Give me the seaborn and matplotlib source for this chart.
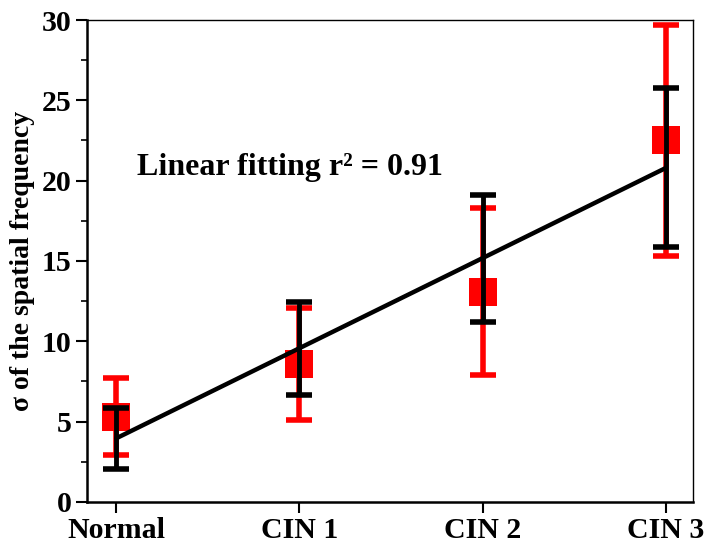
import numpy as np
import pandas as pd
import matplotlib
matplotlib.use("Agg")
import matplotlib.pyplot as plt
import seaborn as sns
from matplotlib.ticker import MultipleLocator

# Data
groups = ["Normal", "CIN 1", "CIN 2", "CIN 3"]
sigma_mean = [5.3, 8.6, 13.1, 22.5]
sigma_err = [2.4, 3.5, 5.2, 7.2]
fit_err = [1.9, 2.9, 3.95, 4.95]

x = np.arange(len(groups))
slope, intercept = np.polyfit(x, sigma_mean, 1)
fit_vals = slope * x + intercept

df = pd.DataFrame({"x": x, "mean": sigma_mean, "fit": fit_vals})

sns.set_style("ticks")
plt.rcParams["font.family"] = ["Liberation Serif", "DejaVu Serif"]
plt.rcParams["font.weight"] = "bold"
plt.rcParams["text.color"] = "black"
plt.rcParams["axes.labelcolor"] = "black"
plt.rcParams["xtick.color"] = "black"
plt.rcParams["ytick.color"] = "black"

fig = plt.figure(figsize=(7.06, 5.48), dpi=100)
ax = fig.add_axes([0.123, 0.084, 0.859, 0.8795])

# red error bars + squares
ax.errorbar(x, sigma_mean, yerr=sigma_err, fmt="none", ecolor="#ff0000",
            elinewidth=4, capsize=9.5, capthick=4, zorder=2)
sns.scatterplot(data=df, x="x", y="mean", marker="s", s=420, color="#ff0000",
                linewidth=0, ax=ax, zorder=3)

# linear fit + its error bars
sns.lineplot(data=df, x="x", y="fit", color="black", linewidth=3.2, ax=ax, zorder=4)
ax.errorbar(x, fit_vals, yerr=fit_err, fmt="none", ecolor="black",
            elinewidth=3.5, capsize=9.5, capthick=4, zorder=5)

ax.text(0.115, 20.8, "Linear fitting r² = 0.91", fontsize=23,
        fontweight="bold", va="center", ha="left")

ax.set_xlim(-0.16, 3.15)
ax.set_ylim(0, 30)
ax.set_xticks(x)
ax.set_xticklabels(groups)
ax.yaxis.set_major_locator(MultipleLocator(5))
ax.yaxis.set_minor_locator(MultipleLocator(2.5))
ax.set_xlabel("")
ax.set_ylabel("σ of the spatial frequency", fontsize=20, fontweight="bold",
              labelpad=5)

for lbl in ax.get_xticklabels() + ax.get_yticklabels():
    lbl.set_fontsize(21.5)
    lbl.set_fontweight("bold")

ax.tick_params(axis="both", which="major", direction="out", length=8, width=1.5,
               pad=3, top=False, right=False)
ax.tick_params(axis="y", which="minor", direction="out", length=4.5, width=1.2)
ax.spines["left"].set_linewidth(1.8)
ax.spines["bottom"].set_linewidth(1.8)
ax.spines["top"].set_linewidth(1.0)
ax.spines["right"].set_linewidth(1.0)
for s in ax.spines.values():
    s.set_color("black")
    s.set_visible(True)

fig.savefig("out.png", dpi=100)
